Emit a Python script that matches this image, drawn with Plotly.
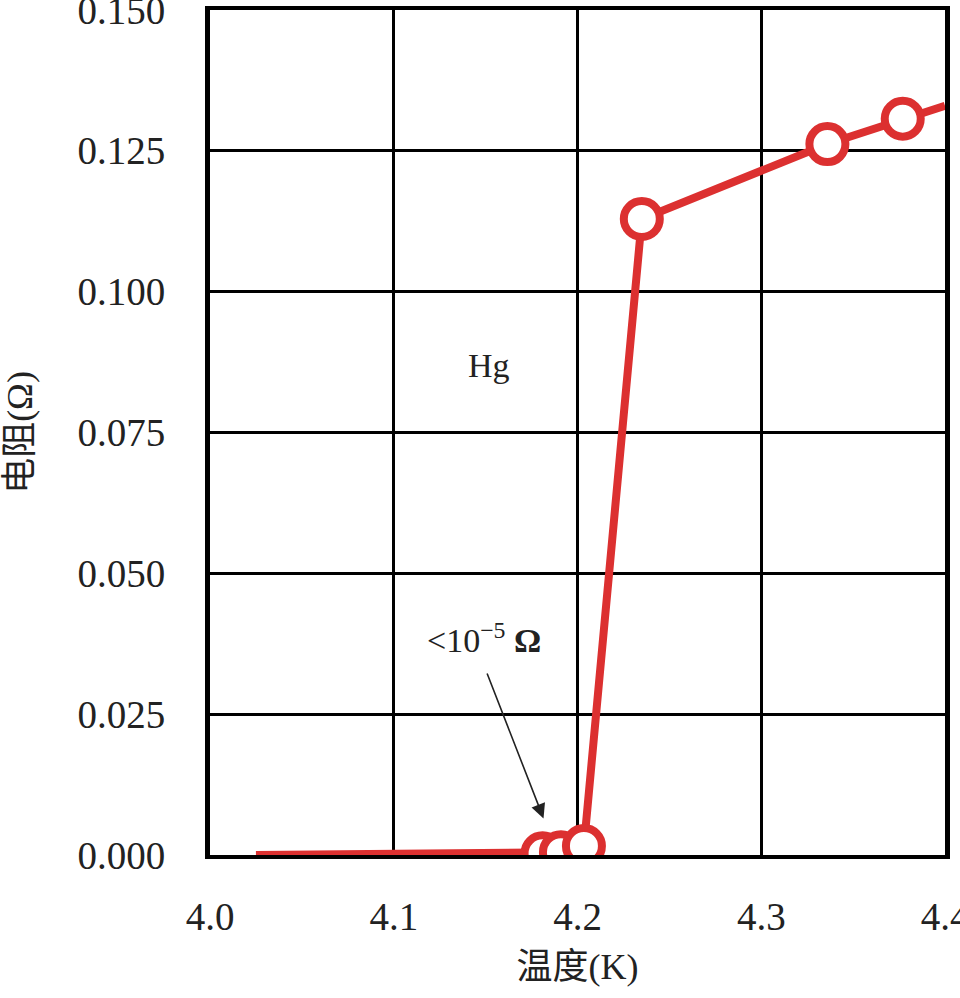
import plotly.graph_objects as go

# Measured points (temperature K, resistance Ohm)
temp_pts = [4.181, 4.191, 4.2035, 4.235, 4.336, 4.377]
res_pts = [0.0003, 0.0005, 0.0016, 0.1129, 0.1262, 0.1307]

# Full curve including the segments before/after the markers
curve_t = [4.025] + temp_pts + [4.400]
curve_r = [0.0] + res_pts + [0.1330]

x_ticks = [4.0, 4.1, 4.2, 4.3, 4.4]
y_ticks = [0.000, 0.025, 0.050, 0.075, 0.100, 0.125, 0.150]

RED = "#dc3030"
FONT = "Liberation Serif, Noto Sans CJK SC, serif"
TXT = "#222222"

fig = go.Figure()
fig.add_trace(go.Scatter(x=curve_t, y=curve_r, mode="lines",
                         line=dict(color=RED, width=8), hoverinfo="skip",
                         showlegend=False))
fig.add_trace(go.Scatter(x=temp_pts, y=res_pts, mode="markers",
                         marker=dict(size=36, color="white",
                                     line=dict(color=RED, width=8)),
                         showlegend=False))

fig.add_annotation(x=4.152, y=0.0869, text="Hg", showarrow=False,
                   font=dict(family=FONT, size=34, color=TXT))
fig.add_annotation(x=4.149, y=0.0385, text="&lt;10<sup>−5</sup> <b>Ω</b>", showarrow=False,
                   font=dict(family=FONT, size=34, color=TXT))
fig.add_annotation(x=4.1815, y=0.0065, ax=4.1505, ay=0.0325,
                   axref="x", ayref="y", xref="x", yref="y",
                   text="", showarrow=True, arrowhead=2, arrowsize=1.8,
                   arrowwidth=1.6, arrowcolor="#222222")

fig.update_xaxes(range=[4.0, 4.4], tickvals=x_ticks,
                 ticktext=[f"{v:.1f}" for v in x_ticks],
                 showgrid=True, gridcolor="black", gridwidth=3,
                 showline=True, linecolor="black", linewidth=4, mirror=True,
                 zeroline=False, ticks="", ticklabelstandoff=24,
                 ticklabeloverflow="allow", automargin=False,
                 tickfont=dict(family=FONT, size=39, color=TXT),
                 title=dict(text="温度(K)", standoff=18,
                            font=dict(family=FONT, size=36, color=TXT)))
fig.update_yaxes(range=[0, 0.150], tickvals=y_ticks,
                 ticktext=[f"{v:.3f}" for v in y_ticks],
                 showgrid=True, gridcolor="black", gridwidth=3,
                 showline=True, linecolor="black", linewidth=5, mirror=True,
                 zeroline=False, ticks="", ticklabelstandoff=32,
                 ticklabeloverflow="allow", automargin=False,
                 tickfont=dict(family=FONT, size=39, color=TXT),
                 title=dict(text="电阻(Ω)", standoff=38,
                            font=dict(family=FONT, size=36, color=TXT)))

fig.update_layout(width=960, height=998,
                  margin=dict(l=210, r=15, t=10, b=143),
                  plot_bgcolor="white", paper_bgcolor="white")

fig.write_html("out.html")
